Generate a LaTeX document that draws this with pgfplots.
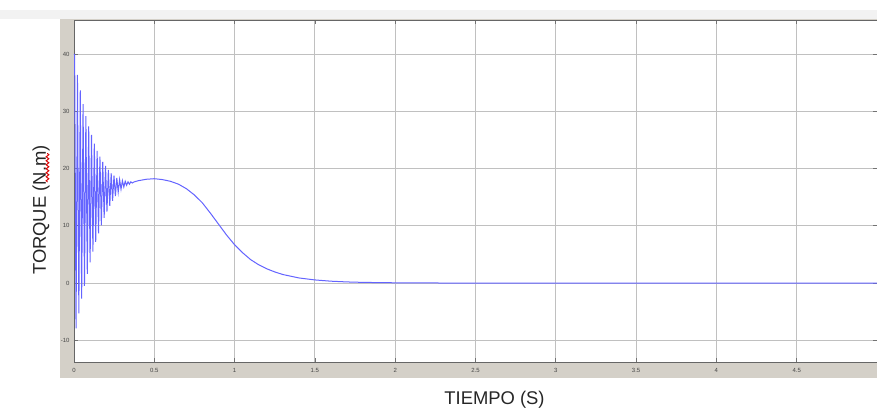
\documentclass[border=0pt]{standalone}
\usepackage{pgfplots}
\pgfplotsset{compat=1.18}
\usepackage{fontspec}
\setmainfont{Liberation Sans}
\usetikzlibrary{decorations.pathmorphing}
\definecolor{framegray}{RGB}{212,208,200}
\definecolor{gridgray}{RGB}{192,192,192}
\definecolor{scopeblue}{RGB}{100,100,255}
\definecolor{ticktext}{RGB}{70,70,70}

\begin{document}
\begin{tikzpicture}[x=1pt,y=1pt]
% page = 877 x 410 px, 1 px = 1 pt, axis box at (0,0)-(803,342)
\useasboundingbox (-74,-48) rectangle (803,362);
\fill[white] (-74,-48) rectangle (803,362);
\fill[black!5] (-74,343) rectangle (803,352);
\fill[framegray] (-14,-16) rectangle (803,343);
\begin{axis}[
    at={(0,0)}, anchor=south west,
    scale only axis, width=803pt, height=342pt,
    xmin=0, xmax=5, ymin=-13.8, ymax=46,
    xtick={0,0.5,...,4.5}, ytick={-10,0,...,40},
    grid=major, major grid style={gridgray, line width=0.9pt},
    tick align=inside, major tick length=4pt,
    every tick/.style={black!55, line width=0.8pt},
    axis line style={black!60, line width=0.9pt},
    axis background/.style={fill=white},
    /pgf/number format/assume math mode=true,
    ticklabel style={font=\fontsize{6}{7}\selectfont, text=ticktext},
    xticklabel style={yshift=-3pt},
    yticklabel style={xshift=-1pt},
    xlabel={TIEMPO (S)}, ylabel={TORQUE (N.m)},
    label style={font=\fontsize{18.4}{20}\selectfont, text=black!85},
    xlabel style={at={(axis description cs:0.5237,-0.111)}, anchor=center},
    ylabel style={at={(axis description cs:-0.0411,0.444)}, anchor=center, rotate=0},
    clip=true,
]
\addplot[scopeblue, line width=1pt] coordinates {
(0,40) (0.0040,40.0) (0.01275,-7.9)
(0.0215,36.4) (0.03025,-5.3)
(0.0390,33.7) (0.04775,-2.7)
(0.0565,31.3) (0.06525,-0.5)
(0.0740,29.2) (0.08275,1.6)
(0.0915,27.4) (0.10025,3.6)
(0.1090,25.9) (0.11775,5.5)
(0.1265,24.4) (0.13525,7.2)
(0.1440,23.1) (0.15275,8.7)
(0.1615,22.1) (0.17025,10.1)
(0.1790,21.2) (0.18775,11.4)
(0.1965,20.5) (0.20525,12.5)
(0.2140,19.8) (0.22275,13.5)
(0.2315,19.2) (0.24025,14.4)
(0.2490,18.8) (0.25775,15.2)
(0.2665,18.4) (0.27525,15.9)
(0.2840,18.1) (0.29275,16.4)
(0.3015,17.9) (0.31025,16.8)
(0.3190,17.8) (0.32775,17.1)
(0.3365,17.7) (0.34525,17.3)
(0.3540,17.7) (0.36275,17.5)
(0.375,17.7) (0.40,17.9) (0.45,18.15) (0.50,18.25) (0.55,18.1)
(0.60,17.8) (0.65,17.3) (0.70,16.5) (0.75,15.4) (0.80,14.0)
(0.85,12.2) (0.90,10.3) (0.95,8.4) (1.00,6.7) (1.05,5.3)
(1.10,4.1) (1.15,3.2) (1.20,2.5) (1.25,1.95) (1.30,1.5)
(1.40,0.9) (1.50,0.55) (1.60,0.33) (1.70,0.2) (1.80,0.12)
(2.00,0.05) (2.30,0.01) (2.60,0) (5.00,0)
};
\end{axis}
% spell-check underline under "N.m"
\draw[red!85!black, line width=1pt, decorate, decoration={snake, amplitude=1.3pt, segment length=4pt}]
  (-26.5,180) -- (-26.5,209);
\end{tikzpicture}
\end{document}
